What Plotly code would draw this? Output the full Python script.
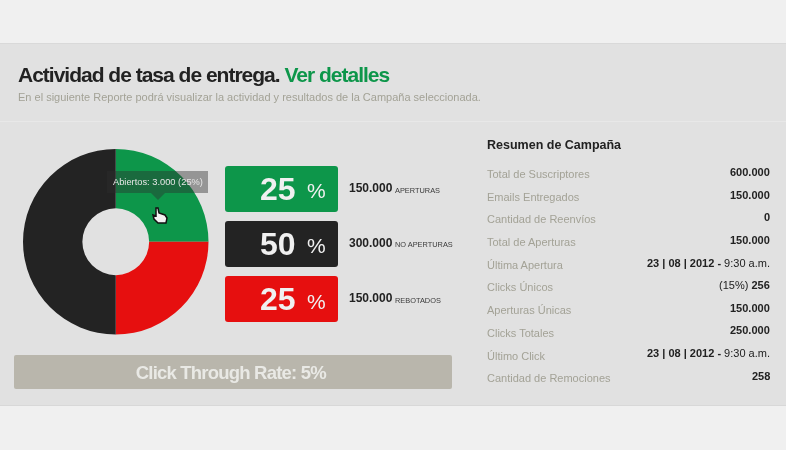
import plotly.graph_objects as go

W, H = 786, 450

# pie data
pie_labels = ['Aperturas', 'Rebotados', 'No aperturas']
pie_values = [25, 25, 50]
pie_colors = ['#0d964a', '#e60f0f', '#232323']

# cards next to the pie
card_pcts = ['25', '50', '25']
card_colors = ['#0d964a', '#232323', '#e60f0f']
card_counts = ['150.000', '300.000', '150.000']
card_names = ['APERTURAS', 'NO APERTURAS', 'REBOTADOS']

# campaign summary
summary_labels = ['Total de Suscriptores', 'Emails Entregados', 'Cantidad de Reenvíos',
                  'Total de Aperturas', 'Última Apertura', 'Clicks Únicos',
                  'Aperturas Únicas', 'Clicks Totales', 'Último Click',
                  'Cantidad de Remociones']
summary_values = ['<b>600.000</b>', '<b>150.000</b>', '<b>0</b>', '<b>150.000</b>',
                  '<b>23 | 08 | 2012 -</b> 9:30 a.m.', '(15%) <b>256</b>',
                  '<b>150.000</b>', '<b>250.000</b>',
                  '<b>23 | 08 | 2012 -</b> 9:30 a.m.', '<b>258</b>']
summary_label_y = [174, 197, 219, 242, 265, 287, 310, 333, 356, 378]
summary_value_y = [172, 195, 217, 240, 263, 285, 308, 330, 353, 376]


def px(x):
    return x / W


def py(y):
    return 1 - y / H


def rect(x0, y0, x1, y1, color):
    return dict(type='rect', xref='paper', yref='paper', x0=px(x0), x1=px(x1),
                y0=py(y0), y1=py(y1), fillcolor=color, line_width=0, layer='below')


def round_rect(x0, y0, x1, y1, r, color):
    path = (f'M {px(x0 + r)} {py(y0)} L {px(x1 - r)} {py(y0)} Q {px(x1)} {py(y0)} {px(x1)} {py(y0 + r)} '
            f'L {px(x1)} {py(y1 - r)} Q {px(x1)} {py(y1)} {px(x1 - r)} {py(y1)} '
            f'L {px(x0 + r)} {py(y1)} Q {px(x0)} {py(y1)} {px(x0)} {py(y1 - r)} '
            f'L {px(x0)} {py(y0 + r)} Q {px(x0)} {py(y0)} {px(x0 + r)} {py(y0)} Z')
    return dict(type='path', xref='paper', yref='paper', path=path, fillcolor=color,
                line_width=0, layer='below')


def poly(points, color, line=None, width=1):
    path = 'M ' + ' L '.join(f'{px(x)} {py(y)}' for x, y in points) + ' Z'
    return dict(type='path', xref='paper', yref='paper', path=path, fillcolor=color,
                line=dict(color=line or color, width=width), layer='above')


def label(x, y, text, size, color, anchor='left', bold=False):
    return dict(xref='paper', yref='paper', x=px(x), y=py(y), text=f'<b>{text}</b>' if bold else text,
                showarrow=False, xanchor=anchor, yanchor='middle', borderpad=0, borderwidth=0,
                font=dict(family='Liberation Sans', size=size, color=color))


fig = go.Figure(go.Pie(
    labels=pie_labels, values=pie_values, sort=False, direction='clockwise', rotation=0,
    hole=0.36, textinfo='none', hoverinfo='skip',
    marker=dict(colors=pie_colors, line=dict(width=0)),
    domain=dict(x=[px(23), px(208.5)], y=[py(334.5), py(149)]),
))

shapes = [
    rect(0, 0, W, 43, '#f0f0f0'),
    rect(0, 43, W, 405, '#e1e1e1'),
    rect(0, 405, W, H, '#f0f0f0'),
    rect(0, 43, W, 44, '#d9d9d9'),
    rect(0, 121, W, 122, '#e8e8e8'),
    rect(0, 405, W, 406, '#d8d8d8'),
    round_rect(14, 355, 452, 389, 2, '#b9b6ac'),
]
annotations = [
    # centred because the tracking below shrinks the text around its middle
    label(203.5, 74.5, 'Actividad de tasa de entrega. <span style="color:#0d964a">Ver detalles</span>',
          21, '#222222', 'center', True),
    label(18, 97, 'En el siguiente Reporte podrá visualizar la actividad y resultados de la Campaña seleccionada.',
          11, '#a3a296'),
    label(230.5, 372, 'Click Through Rate: 5%', 18.5, '#e9e9e5', 'center', True),
    label(487, 145, 'Resumen de Campaña', 12.5, '#222222', bold=True),
]

# cards
for i in range(3):
    top = 166 + i * 55
    shapes.append(round_rect(225, top, 338, top + 46, 3, card_colors[i]))
    annotations.append(label(296, top + 23, card_pcts[i], 32, '#f0f0f0', 'right', True))
    annotations.append(label(326, top + 25, '%', 21, '#f0f0f0', 'right'))
    annotations.append(label(349, top + 22, card_counts[i], 12, '#222222', bold=True))
    annotations.append(label(395, top + 24, card_names[i], 7.4, '#3a3a3a'))

# summary rows
for name, value, ly, vy in zip(summary_labels, summary_values, summary_label_y, summary_value_y):
    annotations.append(label(487, ly, name, 11, '#a3a296'))
    annotations.append(label(770, vy, value, 11, '#222222', 'right'))

# tooltip and hand cursor over the pie
shapes.append(dict(rect(107, 171, 208, 193, 'rgba(45,45,45,0.42)'), layer='above'))
shapes.append(poly([(151, 193), (165, 193), (158, 200)], 'rgba(45,45,45,0.42)', 'rgba(0,0,0,0)', 0))
annotations.append(label(113, 182, 'Abiertos: 3.000 (25%)', 9.3, '#e6e6e6'))
hand = [(156, 208), (158, 208), (159, 213), (165, 215), (167, 218), (166, 223),
        (158, 223), (154, 219), (153, 215), (156, 216)]
shapes.append(poly(hand, '#f2f2f2', '#111111', 1.5))

fig.update_layout(
    width=W, height=H, margin=dict(l=0, r=0, t=0, b=0, pad=0),
    paper_bgcolor='#e1e1e1', plot_bgcolor='#e1e1e1', showlegend=False,
    shapes=shapes, annotations=annotations,
)

# page tweaks: no body margin, tight tracking on the big headings, soft look of the source
post = """
document.body.style.margin = '0';
document.body.style.overflow = 'hidden';
document.body.style.background = '#e6e6e6';
document.querySelectorAll('.annotation-text').forEach(function (t) {
    if (t.textContent.indexOf('Actividad') === 0) t.style.letterSpacing = '-1px';
    if (t.textContent.indexOf('Click Through') === 0) t.style.letterSpacing = '-0.8px';
});
document.querySelector('.plotly-graph-div').style.filter = 'blur(0.45px)';
"""
fig.write_html('out.html', config=dict(displayModeBar=False), post_script=post)
